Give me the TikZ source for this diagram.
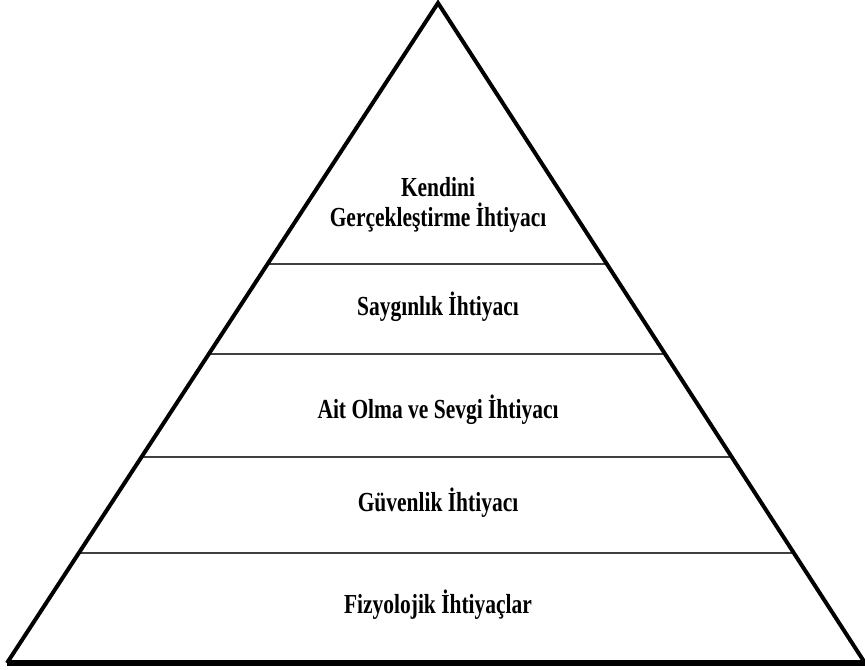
\documentclass[tikz,border=0pt]{standalone}
\usepackage{fontspec}
\setmainfont{Liberation Serif}[FakeStretch=0.78]
\usetikzlibrary{calc}

\begin{document}
\begin{tikzpicture}[x=0.03cm,y=-0.03cm,
  level/.style={font=\fontsize{23.5}{26}\selectfont\bfseries,align=center}]
\useasboundingbox (0,0) rectangle (865,670);
\coordinate (apex) at (438,3);
\coordinate (left) at (7,663);
\coordinate (right) at (865,663);
% levels
\foreach \t in {0.6045,0.468,0.312,0.1667}
  \draw[line width=1.2pt,black!75]($(left)!\t!(apex)$)--($(right)!\t!(apex)$);
\draw[line width=3.4pt,line join=miter](left)--(apex)--(right);
\draw[line width=4.4pt](left)--(right);
\node[level](self) at (438,205){Kendini\\Gerçekleştirme İhtiyacı};
\node[level](esteem) at (438,307){Saygınlık İhtiyacı};
\node[level](love) at (438,410){Ait Olma ve Sevgi İhtiyacı};
\node[level](safety) at (438,503){Güvenlik İhtiyacı};
\node[level](body) at (438,605){Fizyolojik İhtiyaçlar};
\end{tikzpicture}
\end{document}
